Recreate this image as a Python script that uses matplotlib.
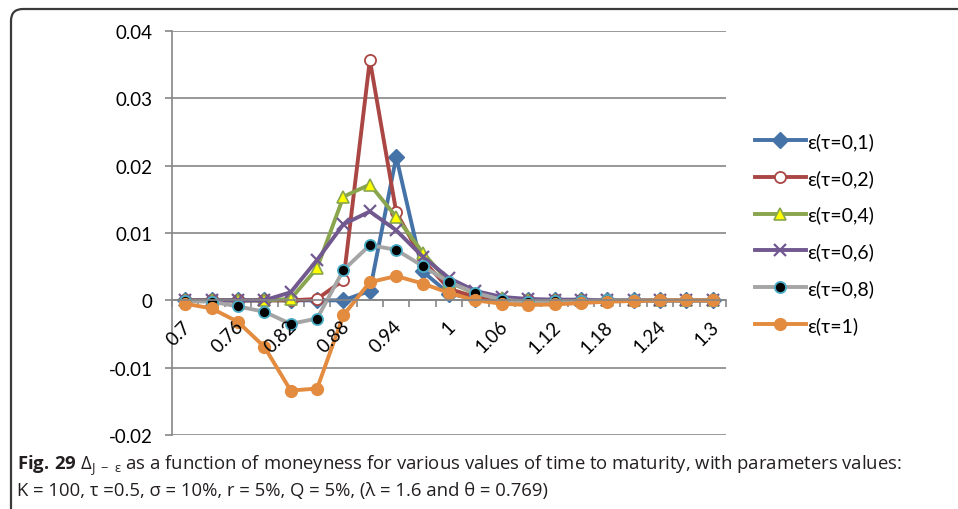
import matplotlib
matplotlib.use("Agg")
import matplotlib.pyplot as plt
import matplotlib.transforms as mtransforms
from matplotlib.patches import FancyBboxPatch

plt.rcParams['font.family'] = ['Lato', 'DejaVu Sans']
plt.rcParams['mathtext.fontset'] = 'custom'
plt.rcParams['mathtext.rm'] = 'Open Sans'
plt.rcParams['mathtext.it'] = 'Open Sans:italic'
plt.rcParams['mathtext.bf'] = 'Open Sans:bold'

categories = ["0.7", "0.73", "0.76", "0.79", "0.82", "0.85", "0.88", "0.91", "0.94", "0.97",
              "1", "1.03", "1.06", "1.09", "1.12", "1.15", "1.18", "1.21", "1.24", "1.27", "1.3"]

eps_tau_01 = [0, 0, 0, 0, 0, 0, 0, 0.0014, 0.0213, 0.0043, 0.0010, 0.0002, 0, 0, 0, 0, 0, 0, 0, 0, 0]
eps_tau_02 = [0, 0, 0, 0, 0, 0.0002, 0.0030, 0.0357, 0.0131, 0.0060, 0.0017, 0.0005, 0.0001, 0, 0, 0, 0, 0, 0, 0, 0]
eps_tau_04 = [0, 0, 0, 0, 0.0002, 0.0048, 0.0154, 0.0172, 0.0124, 0.0071, 0.0027, 0.0010, 0.0003, 0.0001, 0, 0, 0, 0, 0, 0, 0]
eps_tau_06 = [0, 0, 0, 0, 0.0012, 0.0060, 0.0113, 0.0132, 0.0104, 0.0065, 0.0033, 0.0014, 0.0005, 0.0002, 0.0001, 0.0001, 0, 0, 0, 0, 0]
eps_tau_08 = [-0.0001, -0.0002, -0.0009, -0.0017, -0.0035, -0.0027, 0.0045, 0.0082, 0.0075, 0.0051, 0.0027, 0.0011, 0.0001, -0.0002, -0.0001, -0.0001, 0, 0, 0, 0, 0]
eps_tau_1 = [-0.0005, -0.0012, -0.0032, -0.0069, -0.0134, -0.0131, -0.0022, 0.0027, 0.0036, 0.0025, 0.0011, 0.0, -0.0005, -0.0007, -0.0006, -0.0004, -0.0002, -0.0001, 0, 0, 0]

series_labels = ["ε(τ=0,1)", "ε(τ=0,2)", "ε(τ=0,4)", "ε(τ=0,6)", "ε(τ=0,8)", "ε(τ=1)"]
y_ticks = [-0.02, -0.01, 0, 0.01, 0.02, 0.03, 0.04]
y_tick_labels = ["-0.02", "-0.01", "0", "0.01", "0.02", "0.03", "0.04"]

caption_line1 = r"$\mathbf{Fig.\,29}$ Δ$_{\mathrm{J\ -\ ε}}$ as a function of moneyness for various values of time to maturity, with parameters values:"
caption_line2 = "K = 100, τ =0.5, σ = 10%, r = 5%, Q = 5%, (λ = 1.6 and θ = 0.769)"

W, H = 958, 510
fig = plt.figure(figsize=(W / 100, H / 100), dpi=100)
ax = fig.add_axes([172 / W, 1 - 436 / H, (726 - 172) / W, (436 - 32) / H])

x = list(range(len(categories)))
lw = 2.8
styles = [
    dict(color="#4572A7", marker="D", ms=8, mfc="#4572A7", mec="#4572A7"),
    dict(color="#AA4643", marker="o", ms=8, mfc="white", mec="#AA4643", mew=1.3),
    dict(color="#89A54E", marker="^", ms=8.5, mfc="#FFFF00", mec="#89A54E", mew=1.2),
    dict(color="#71588F", marker="x", ms=8, mec="#71588F", mew=1.6),
    dict(color="#A5A5A5", marker="o", ms=8, mfc="black", mec="#4BACC6", mew=1.3),
    dict(color="#E38B3E", marker="o", ms=8.5, mfc="#E38B3E", mec="#E38B3E"),
]
all_series = [eps_tau_01, eps_tau_02, eps_tau_04, eps_tau_06, eps_tau_08, eps_tau_1]
for ys, st, lab in zip(all_series, styles, series_labels):
    ax.plot(x, ys, lw=lw, label=lab, solid_joinstyle="round", **st)

ax.set_xlim(-0.5, len(categories) - 0.5)
ax.set_ylim(-0.02, 0.04)
ax.set_yticks(y_ticks)
ax.set_yticklabels(y_tick_labels)
ax.yaxis.grid(True, color="#868686", lw=1.2)
ax.set_axisbelow(True)

for s in ["top", "right"]:
    ax.spines[s].set_visible(False)
ax.spines["left"].set_color("#868686")
ax.spines["left"].set_linewidth(1.2)
ax.spines["bottom"].set_position(("data", 0))
ax.spines["bottom"].set_color("#868686")
ax.spines["bottom"].set_linewidth(1.2)

ax.tick_params(axis="y", length=5, width=1.2, color="#868686", pad=9, labelsize=13.5)
ax.set_xticks([i - 0.5 for i in range(len(categories) + 1)])
ax.set_xticklabels([])
ax.tick_params(axis="x", length=5, width=1.2, color="#868686", direction="out")

offset = mtransforms.ScaledTranslation(-3 / 100, -17 / 100, fig.dpi_scale_trans)
for i in range(0, len(categories), 2):
    ax.text(i, 0, categories[i], rotation=45, rotation_mode="anchor",
            ha="right", va="top", fontsize=13.5, transform=ax.transData + offset)

leg = ax.legend(loc="upper left", bbox_to_anchor=(755 / W, 1 - 133 / H),
                bbox_transform=fig.transFigure, frameon=False, fontsize=14,
                handlelength=2.6, handletextpad=0.1, labelspacing=0.97,
                borderaxespad=0, borderpad=0)

fig.text(17 / W, 1 - 466 / H, caption_line1, fontsize=13.3, family=["Open Sans", "DejaVu Sans"],
         va="center", ha="left", color="#231F20")
fig.text(17 / W, 1 - 491 / H, caption_line2, fontsize=13.3, family=["Open Sans", "DejaVu Sans"],
         va="center", ha="left", color="#231F20")

frame = FancyBboxPatch((11, -60), 1100, 560, boxstyle="round,pad=0,rounding_size=12",
                       transform=None, fill=False, ec="#3a3a3a", lw=1.6)
fig.patches.append(frame)

fig.savefig("out.png", dpi=100)
